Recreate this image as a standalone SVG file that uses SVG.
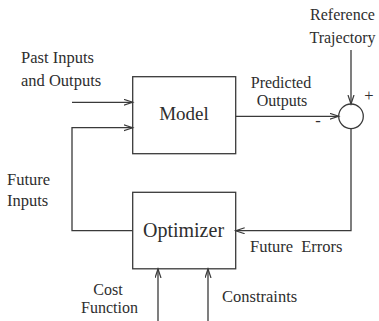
<svg xmlns="http://www.w3.org/2000/svg" width="379" height="321" viewBox="0 0 379 321">
<style>
  .ln{fill:none;stroke:#3a3a3a;stroke-width:1.3}
  .bx{fill:none;stroke:#3a3a3a;stroke-width:1.3}
  text{font-family:"Liberation Serif","Times New Roman",serif;fill:#2e2e2e}
  .lb{font-size:16.5px}
  .big{font-size:20px}
</style>
<defs>
  <marker id="ah" markerUnits="userSpaceOnUse" markerWidth="12" markerHeight="10" refX="9" refY="3.5" orient="auto">
    <path d="M0,0.5 L9,3.5 L0,6.5" fill="none" stroke="#3a3a3a" stroke-width="1.2"/>
  </marker>
</defs>
<rect width="379" height="321" fill="#ffffff"/>
<g id="connectors">
  <path class="ln" d="M72,102.3 H132.7" marker-end="url(#ah)"/>
  <path class="ln" d="M132.7,230.7 H72 V127.7 H132.7" marker-end="url(#ah)"/>
  <path class="ln" d="M235.7,116.3 H338.7" marker-end="url(#ah)"/>
  <path class="ln" d="M351,50 V104" marker-end="url(#ah)"/>
  <path class="ln" d="M351,128.6 V230.7 H235.7" marker-end="url(#ah)"/>
  <path class="ln" d="M158,321 V269" marker-end="url(#ah)"/>
  <path class="ln" d="M208,321 V269" marker-end="url(#ah)"/>
</g>
<g id="model">
  <rect class="bx" x="132.7" y="76.7" width="103" height="77"/>
  <text class="big" x="184" y="120" text-anchor="middle" style="font-size:19px">Model</text>
</g>
<g id="optimizer">
  <rect class="bx" x="132.7" y="192.3" width="103" height="76.5"/>
  <text class="big" x="183.5" y="237" text-anchor="middle">Optimizer</text>
</g>
<g id="sum">
  <circle class="bx" cx="351" cy="116.3" r="12.3"/>
  <text class="lb" x="369" y="101" text-anchor="middle">+</text>
  <text class="lb" x="318" y="126" text-anchor="middle">-</text>
</g>
<g id="labels">
  <text class="lb" x="21" y="63">Past Inputs</text>
  <text class="lb" x="21" y="86">and Outputs</text>
  <text class="lb" x="342.5" y="20" text-anchor="middle" style="font-size:16px">Reference</text>
  <text class="lb" x="342.5" y="42.5" text-anchor="middle" style="font-size:16px">Trajectory</text>
  <text class="lb" x="281" y="88" text-anchor="middle" style="font-size:16px">Predicted</text>
  <text class="lb" x="282" y="106" text-anchor="middle" style="font-size:16px">Outputs</text>
  <text class="lb" x="7" y="185">Future</text>
  <text class="lb" x="7" y="206">Inputs</text>
  <text class="lb" x="250" y="252" word-spacing="4">Future Errors</text>
  <text class="lb" x="108" y="294.5" text-anchor="middle" style="font-size:16px">Cost</text>
  <text class="lb" x="109.5" y="313" text-anchor="middle" style="font-size:16px">Function</text>
  <text class="lb" x="222" y="302">Constraints</text>
</g>
</svg>
